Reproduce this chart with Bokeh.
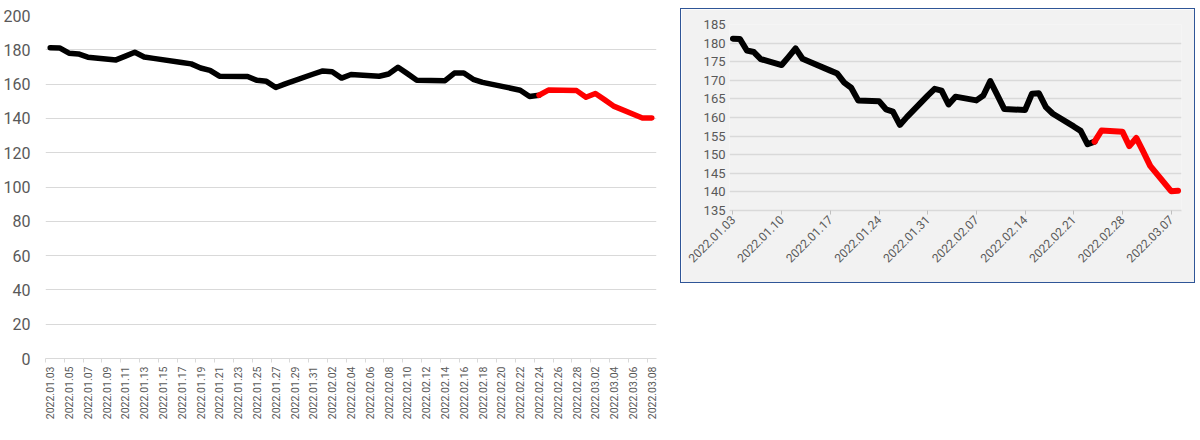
import math
import pandas as pd
from bokeh.plotting import figure
from bokeh.layouts import row
from bokeh.models import Range1d, FixedTicker, DatetimeTickFormatter
from bokeh.embed import file_html
from bokeh.resources import INLINE

# ---- data ----
actual_dates = [
    "2022-01-03", "2022-01-04", "2022-01-05", "2022-01-06", "2022-01-07",
    "2022-01-10", "2022-01-11", "2022-01-12", "2022-01-13", "2022-01-14",
    "2022-01-17", "2022-01-18", "2022-01-19", "2022-01-20", "2022-01-21",
    "2022-01-24", "2022-01-25", "2022-01-26", "2022-01-27", "2022-01-28",
    "2022-01-31", "2022-02-01", "2022-02-02", "2022-02-03", "2022-02-04",
    "2022-02-07", "2022-02-08", "2022-02-09", "2022-02-10", "2022-02-11",
    "2022-02-14", "2022-02-15", "2022-02-16", "2022-02-17", "2022-02-18",
    "2022-02-21", "2022-02-22", "2022-02-23", "2022-02-24",
]
actual_values = [
    181.2, 181.1, 178.0, 177.6, 175.7,
    174.1, 176.3, 178.6, 175.8, 175.0,
    172.6, 171.8, 169.4, 168.0, 164.6,
    164.4, 162.2, 161.6, 158.0, 160.1,
    165.9, 167.7, 167.2, 163.5, 165.6,
    164.6, 165.9, 169.8, 166.1, 162.3,
    162.0, 166.4, 166.5, 162.8, 161.0,
    157.6, 156.4, 152.8, 153.5,
]
forecast_dates = [
    "2022-02-24", "2022-02-25", "2022-02-28", "2022-03-01", "2022-03-02",
    "2022-03-03", "2022-03-04", "2022-03-07", "2022-03-08",
]
forecast_values = [
    153.5, 156.5, 156.2, 152.3, 154.5,
    150.8, 147.0, 140.2, 140.3,
]
left_y_ticks = [0, 20, 40, 60, 80, 100, 120, 140, 160, 180, 200]
right_y_ticks = [135, 140, 145, 150, 155, 160, 165, 170, 175, 180, 185]

FONT = "Roboto"
LABEL_COLOR = "#595959"
GRID_COLOR = "#D9D9D9"

ad = pd.to_datetime(actual_dates)
fd = pd.to_datetime(forecast_dates)
first = ad[0]
last = fd[-1]
half = pd.Timedelta(hours=12)


def ms(ts):
    return ts.value / 1e6


fmt_str = "%Y.%m.%d"
fmt = DatetimeTickFormatter(
    milliseconds=fmt_str, seconds=fmt_str, minsec=fmt_str, minutes=fmt_str,
    hourmin=fmt_str, hours=fmt_str, days=fmt_str, months=fmt_str, years=fmt_str,
)

# ---- left chart ----
p1 = figure(frame_width=611, frame_height=343, x_axis_type="datetime",
            output_backend="svg", toolbar_location=None,
            x_range=Range1d(first - half, last + half),
            y_range=Range1d(0, 200),
            min_border_left=41, min_border_right=8,
            min_border_top=6, min_border_bottom=74)
p1.outline_line_color = None
p1.background_fill_color = "white"
p1.border_fill_color = "white"

left_ticks = [ms(t) for t in pd.date_range(first, last, freq="2D")]
left_minor = [ms(t - half) for t in pd.date_range(first, last + pd.Timedelta(days=1), freq="2D")]
p1.xaxis.ticker = FixedTicker(ticks=left_ticks, minor_ticks=left_minor)
p1.xaxis.formatter = fmt
p1.xaxis.major_label_orientation = math.pi / 2
p1.xaxis.major_label_text_font = FONT
p1.xaxis.major_label_text_font_size = "10.5px"
p1.xaxis.major_label_text_color = LABEL_COLOR
p1.xaxis.axis_line_color = GRID_COLOR
p1.xaxis.major_tick_line_color = None
p1.xaxis.major_tick_out = 0
p1.xaxis.major_tick_in = 0
p1.xaxis.minor_tick_line_color = GRID_COLOR
p1.xaxis.minor_tick_out = 4
p1.xaxis.minor_tick_in = 0
p1.xaxis.major_label_standoff = 4

p1.yaxis.ticker = FixedTicker(ticks=left_y_ticks)
p1.yaxis.axis_line_color = None
p1.yaxis.major_tick_line_color = None
p1.yaxis.minor_tick_line_color = None
p1.yaxis.major_tick_out = 0
p1.yaxis.major_label_standoff = 15
p1.yaxis.major_label_text_font = FONT
p1.yaxis.major_label_text_font_size = "16px"
p1.yaxis.major_label_text_color = LABEL_COLOR

p1.xgrid.grid_line_color = None
p1.ygrid.grid_line_color = GRID_COLOR
p1.ygrid.grid_line_width = 1

p1.line(ad, actual_values, line_color="#000000", line_width=5.5,
        line_join="round", line_cap="round")
p1.line(fd, forecast_values, line_color="#FF0000", line_width=5.5,
        line_join="round", line_cap="round")

# ---- right chart ----
p2 = figure(frame_width=450, frame_height=184, x_axis_type="datetime",
            output_backend="svg", toolbar_location=None,
            x_range=Range1d(first - half, last + half),
            y_range=Range1d(135, 185),
            min_border_left=48, min_border_right=15,
            min_border_top=15, min_border_bottom=74)
p2.outline_line_color = None
p2.background_fill_color = "#F2F2F2"
p2.border_fill_color = "#F2F2F2"
p2.styles = {"border": "1.3px solid #2F5597"}
p2.margin = (8, 0, 0, 16)

right_ticks = [ms(t) for t in pd.date_range(first, last, freq="7D")]
p2.xaxis.ticker = FixedTicker(ticks=right_ticks)
p2.xaxis.formatter = fmt
p2.xaxis.major_label_orientation = math.pi / 4
p2.xaxis.major_label_text_font = FONT
p2.xaxis.major_label_text_font_size = "12px"
p2.xaxis.major_label_text_color = LABEL_COLOR
p2.xaxis.axis_line_color = GRID_COLOR
p2.xaxis.axis_line_width = 1.3
p2.xaxis.major_tick_line_color = "#BFBFBF"
p2.xaxis.major_tick_out = 4
p2.xaxis.major_tick_in = 0
p2.xaxis.minor_tick_line_color = None
p2.xaxis.major_label_standoff = 3

p2.yaxis.ticker = FixedTicker(ticks=right_y_ticks)
p2.yaxis.axis_line_color = None
p2.yaxis.major_tick_line_color = None
p2.yaxis.minor_tick_line_color = None
p2.yaxis.major_tick_out = 0
p2.yaxis.major_label_standoff = 4
p2.yaxis.major_label_text_font = FONT
p2.yaxis.major_label_text_font_size = "13px"
p2.yaxis.major_label_text_color = LABEL_COLOR

p2.xgrid.grid_line_color = None
p2.ygrid.grid_line_color = GRID_COLOR
p2.ygrid.grid_line_width = 1.3

p2.line(ad, actual_values, line_color="#000000", line_width=6,
        line_join="round", line_cap="round")
p2.line(fd, forecast_values, line_color="#FF0000", line_width=6,
        line_join="round", line_cap="round")

layout = row(p1, p2)
open("out.html", "w").write(file_html(layout, INLINE))
